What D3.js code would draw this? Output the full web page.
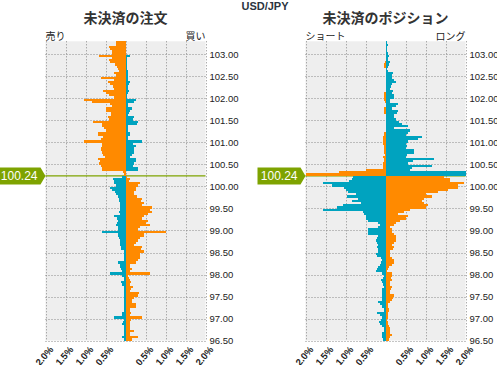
<!DOCTYPE html>
<html>
<head>
<meta charset="utf-8">
<script src="https://cdn.jsdelivr.net/npm/d3@7"></script>
<style>
  body { margin: 0; background: #fff; }
  text { font-family: "Liberation Sans", Arial, sans-serif; }
  .jp { font-family: "Noto Sans CJK JP", sans-serif; }
</style>
</head>
<body>
<svg id="chart" width="497" height="365"></svg>
<script>
// Chart values
var pair = "USD/JPY";
var currentPrice = 100.24;
var priceTicks = [96.5, 97, 97.5, 98, 98.5, 99, 99.5, 100, 100.5, 101, 101.5, 102, 102.5, 103];
var pctTicks = [-2, -1.5, -1, -0.5, 0.5, 1, 1.5, 2];
var topBucket = 103.25, bucketStep = 0.05, bucketCount = 136;

// open orders, buckets above the current price (103.25 down to 100.25)
var orderLeftAbove = [
  0.23,0.23,0.42,0.40,0.34,0.33,0.67,0.35,0.42,0.40,
  0.27,0.22,0.20,0.16,0.30,0.25,0.62,0.30,0.45,0.38,
  0.32,0.30,0.57,0.50,0.42,0.30,1.05,0.85,0.40,0.35,
  0.50,0.48,0.37,0.37,0.45,0.42,0.82,0.60,0.60,0.55,
  0.50,0.70,0.68,0.57,0.62,1.05,0.60,0.60,0.62,0.62,
  0.60,0.57,0.52,0.70,0.65,0.67,0.62,0.60,0.58,0.07,
  0.04];
var orderRightAbove = [
  0,0,0,0,0.02,0.02,0.10,0.03,0.03,0.03,
  0.03,0.03,0.03,0.05,0.05,0.05,0.07,0.06,0.10,0.08,
  0.05,0.05,0.08,0.06,0.03,0.04,0.25,0.22,0.07,0.05,
  0.15,0.12,0.08,0.06,0.22,0.18,0.32,0.28,0.05,0.05,
  0.05,0.10,0.10,0.07,0.05,0.42,0.18,0.25,0.20,0.22,
  0.20,0.15,0.12,0.27,0.25,0.22,0.18,0.32,0.30,0.01,
  0];
// open orders, buckets below the current price (100.20 down to 96.50)
var orderLeftBelow = [
  0.10,0.32,0.30,0.28,0.25,0.40,0.35,0.27,0.25,0.20,
  0.17,0.16,0.15,0.14,0.15,0.13,0.17,0.15,0.30,0.22,
  0.20,0.22,0.25,0.20,0.20,0.60,0.20,0.18,0.17,0.13,
  0.13,0.15,0.12,0.12,0.05,0.05,0.04,0.03,0.04,0.20,
  0.15,0.13,0.12,0.10,0.40,0.10,0.05,0.05,0.12,0.10,
  0.03,0.03,0.03,0.05,0.05,0.03,0.03,0.03,0.03,0.03,
  0.03,0.03,0.10,0.10,0.30,0.05,0.06,0.10,0.05,0.05,
  0.03,0.05,0.05,0.10,0.05];
var orderRightBelow = [
  0.03,0.10,0.08,0.35,0.32,0.27,0.25,0.22,0.22,0.28,
  0.40,0.38,0.45,0.42,0.67,0.60,0.65,0.55,0.45,0.40,
  0.57,0.50,0.62,0.35,0.30,1.00,0.47,0.45,0.37,0.30,
  0.27,0.22,0.40,0.38,0.45,0.35,0.35,0.35,0.30,0.27,
  0.10,0.12,0.15,0.12,0.62,0.05,0.08,0.10,0.13,0.12,
  0.18,0.13,0.12,0.33,0.30,0.20,0.15,0.15,0.25,0.25,
  0.10,0.10,0.13,0.12,0.40,0.13,0.12,0.10,0.10,0.10,
  0.20,0.10,0.10,0.30,0.15];

// open positions
var posLeftAbove = [
  0,0,0,0,0,0,0,0,0,0.02,
  0.05,0.04,0,0,0,0,0,0,0,0,
  0,0,0,0.03,0.05,0.05,0.03,0.02,0,0,
  0.05,0.05,0.03,0,0,0,0,0,0,0,
  0,0.04,0.05,0.07,0.07,0.07,0.07,0.05,0.05,0.05,
  0.03,0.02,0.07,0.05,0.05,0.07,0.07,0.07,0.50,1.17,
  2.30];
var posRightAbove = [
  0.03,0.05,0.04,0.03,0.04,0.07,0.08,0.06,0.05,0.10,
  0.08,0.05,0.03,0.05,0.18,0.15,0.15,0.20,0.27,0.15,
  0.13,0.12,0.18,0.17,0.20,0.22,0.12,0.10,0.32,0.25,
  0.17,0.30,0.28,0.20,0.22,0.27,0.33,0.40,0.57,0.20,
  0.60,0.55,0.50,0.92,0.80,0.55,0.52,0.53,0.52,0.72,
  0.72,0.53,0.50,1.22,0.68,0.55,1.17,0.65,0.60,2.20,
  2.20];
var posLeftBelow = [
  0.82,0.85,0.92,1.57,1.35,1.05,1.00,0.95,0.75,0.97,
  0.70,0.85,0.62,1.07,1.22,1.57,0.57,0.55,0.50,0.48,
  0.45,0.20,0.15,0.18,0.45,0.45,0.45,0.20,0.22,0.25,
  0.22,0.20,0.22,0.20,0.20,0.25,0.22,0.12,0.10,0.12,
  0.15,0.20,0.22,0.25,0.10,0.05,0.07,0.12,0.10,0.07,
  0.05,0.08,0.10,0.10,0.08,0.08,0.10,0.18,0.15,0.10,
  0.05,0.05,0.22,0.15,0.10,0.12,0.17,0.15,0.08,0.05,
  0.05,0.08,0.10,0.08,0.07];
var posRightBelow = [
  1.45,1.60,1.62,1.97,1.80,1.82,1.55,1.30,1.02,1.17,
  0.95,0.90,0.95,1.05,1.00,0.60,0.45,0.32,0.55,0.50,
  0.35,0.25,0.22,0.10,0.15,0.15,0.22,0.25,0.27,0.27,
  0.22,0.17,0.20,0.18,0.12,0.10,0.12,0.15,0.22,0.20,
  0.17,0.08,0.07,0.03,0.17,0.15,0.13,0.15,0.12,0.10,
  0.15,0.13,0.12,0.10,0.20,0.18,0.15,0.10,0.07,0.07,
  0.08,0.08,0.07,0.06,0.05,0.03,0.05,0.07,0.08,0.10,
  0.10,0.10,0.15,0.12,0.08];

var orange = "#ff8a00", teal = "#00a3bf", green = "#7ea300";

// bucket lower bounds, top to bottom
var buckets = d3.range(bucketCount).map(i => +(topBucket - i * bucketStep).toFixed(2));

var svg = d3.select("#chart");

var y = d3.scaleLinear().domain([96.5, 103.3]).range([340.5, 41.3]);

svg.append("text")
  .attr("x", 265).attr("y", 10)
  .attr("text-anchor", "middle")
  .attr("font-size", 11).attr("font-weight", "bold")
  .attr("fill", "#2b3440")
  .text(pair);

function drawPanel(opt) {
  var x = d3.scaleLinear().domain([-2, 2]).range([opt.left, opt.left + 160]);
  var g = svg.append("g");

  g.append("text").attr("class", "jp")
    .attr("x", opt.left + 80).attr("y", 23)
    .attr("text-anchor", "middle")
    .attr("font-size", 14).attr("font-weight", "bold").attr("fill", "#333")
    .text(opt.title);
  g.append("text").attr("class", "jp")
    .attr("x", opt.left).attr("y", 40)
    .attr("font-size", 10).attr("fill", "#222")
    .text(opt.leftLabel);
  g.append("text").attr("class", "jp")
    .attr("x", opt.left + 160).attr("y", 40)
    .attr("text-anchor", "end")
    .attr("font-size", 10).attr("fill", "#222")
    .text(opt.rightLabel);

  // plot background
  g.append("rect")
    .attr("x", x(-2)).attr("y", y(103.3))
    .attr("width", x(2) - x(-2)).attr("height", y(96.5) - y(103.3))
    .attr("fill", "#eeeeee");

  // grid
  g.selectAll(".vgrid").data(d3.range(-2, 2.01, 0.5)).enter().append("line")
    .attr("x1", d => Math.round(x(d)) + 0.5).attr("x2", d => Math.round(x(d)) + 0.5)
    .attr("y1", y(103.3)).attr("y2", y(96.5))
    .attr("stroke", "#8a8a8a").attr("stroke-dasharray", "1,2");
  g.selectAll(".hgrid").data(priceTicks).enter().append("line")
    .attr("x1", x(-2)).attr("x2", x(2))
    .attr("y1", d => Math.round(y(d)) + 0.5).attr("y2", d => Math.round(y(d)) + 0.5)
    .attr("stroke", "#8a8a8a").attr("stroke-dasharray", "1,2");

  // current price line
  var yc = y(currentPrice);
  g.append("line")
    .attr("x1", x(-2)).attr("x2", x(2))
    .attr("y1", yc).attr("y2", yc)
    .attr("stroke", green).attr("stroke-width", 1.2);

  var leftVals = opt.leftAbove.concat(opt.leftBelow);
  var rightVals = opt.rightAbove.concat(opt.rightBelow);
  var rows = buckets.map((p, i) => ({ p: p, l: leftVals[i], r: rightVals[i], above: p >= currentPrice }));
  var bh = y(0) - y(bucketStep);

  var bars = g.append("g").attr("shape-rendering", "crispEdges");
  bars.selectAll(".lbar").data(rows).enter().append("rect")
    .attr("x", d => x(-Math.min(d.l, 2)))
    .attr("y", d => y(d.p + bucketStep))
    .attr("width", d => x(0) - x(-Math.min(d.l, 2)))
    .attr("height", bh)
    .attr("fill", d => d.above ? orange : teal);
  bars.selectAll(".rbar").data(rows).enter().append("rect")
    .attr("x", x(0))
    .attr("y", d => y(d.p + bucketStep))
    .attr("width", d => x(Math.min(d.r, 2)) - x(0))
    .attr("height", bh)
    .attr("fill", d => d.above ? teal : orange);

  // price axis
  var ax = g.append("g")
    .attr("transform", `translate(${x(2)},0)`)
    .call(d3.axisRight(y).tickValues(priceTicks).tickFormat(d3.format(".2f")).tickSize(0).tickPadding(4));
  ax.select(".domain").remove();
  ax.selectAll("text").attr("font-size", 9.5).attr("fill", "#222")
    .attr("font-family", "'Liberation Sans', Arial, sans-serif");

  // percent labels
  g.selectAll(".pct").data(pctTicks).enter().append("text")
    .attr("transform", d => `translate(${x(d) + 4},346) rotate(-50)`)
    .attr("text-anchor", "end")
    .attr("dy", "0.6em")
    .attr("font-size", 9.5).attr("font-weight", "bold").attr("fill", "#222")
    .text(d => d3.format(".1f")(Math.abs(d)) + "%");

  // current price marker
  var tip = x(-2);
  var mk = g.append("g");
  mk.append("path")
    .attr("d", `M${tip - 48},${yc - 8.5}H${tip - 5}L${tip},${yc}L${tip - 5},${yc + 8.5}H${tip - 48}Z`)
    .attr("fill", green);
  mk.append("text")
    .attr("x", tip - 8).attr("y", yc + 4.5)
    .attr("text-anchor", "end")
    .attr("font-size", 12).attr("fill", "#fff")
    .text(currentPrice.toFixed(2));
}

drawPanel({
  left: 45.5, title: "未決済の注文", leftLabel: "売り", rightLabel: "買い",
  leftAbove: orderLeftAbove, rightAbove: orderRightAbove,
  leftBelow: orderLeftBelow, rightBelow: orderRightBelow
});
drawPanel({
  left: 305.5, title: "未決済のポジション", leftLabel: "ショート", rightLabel: "ロング",
  leftAbove: posLeftAbove, rightAbove: posRightAbove,
  leftBelow: posLeftBelow, rightBelow: posRightBelow
});
</script>
</body>
</html>
